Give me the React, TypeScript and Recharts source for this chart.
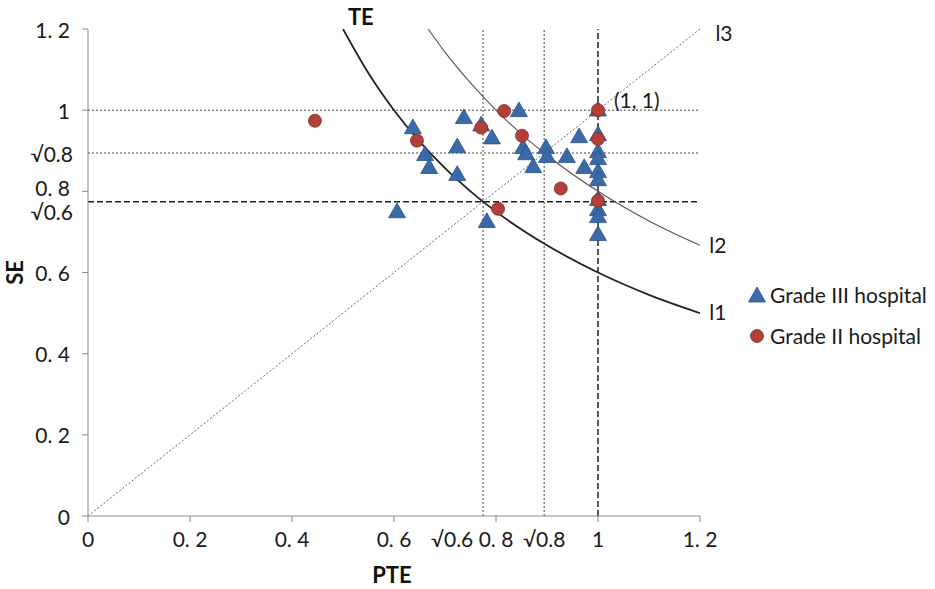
import { ComposedChart, Scatter, Line, XAxis, YAxis, ReferenceLine, ReferenceDot } from 'recharts';

const ROOT06 = Math.sqrt(0.6);
const ROOT08 = Math.sqrt(0.8);

const xTicks = [0, 0.2, 0.4, 0.6, ROOT06, 0.8, ROOT08, 1, 1.2];
const xTickLabels = ['0', '0. 2', '0. 4', '0. 6', '√0.6', '0. 8', '√0.8', '1', '1. 2'];
const yTicks = [0, 0.2, 0.4, 0.6, ROOT06, 0.8, ROOT08, 1, 1.2];
const yTickLabels = ['0', '0. 2', '0. 4', '0. 6', '√0.6', '0. 8', '√0.8', '1', '1. 2'];

// Grade III hospitals (triangles)
const gradeThree = [
  { pte: 0.637, se: 0.954 },
  { pte: 0.661, se: 0.888 },
  { pte: 0.669, se: 0.856 },
  { pte: 0.606, se: 0.747 },
  { pte: 0.737, se: 0.979 },
  { pte: 0.724, se: 0.907 },
  { pte: 0.724, se: 0.839 },
  { pte: 0.771, se: 0.961 },
  { pte: 0.792, se: 0.929 },
  { pte: 0.782, se: 0.723 },
  { pte: 0.845, se: 0.996 },
  { pte: 0.853, se: 0.905 },
  { pte: 0.859, se: 0.89 },
  { pte: 0.873, se: 0.858 },
  { pte: 0.898, se: 0.905 },
  { pte: 0.9, se: 0.883 },
  { pte: 0.939, se: 0.883 },
  { pte: 0.963, se: 0.932 },
  { pte: 0.973, se: 0.856 },
  { pte: 1, se: 0.998 },
  { pte: 1, se: 0.937 },
  { pte: 1, se: 0.895 },
  { pte: 1, se: 0.878 },
  { pte: 1, se: 0.846 },
  { pte: 1, se: 0.826 },
  { pte: 1, se: 0.777 },
  { pte: 1, se: 0.752 },
  { pte: 1, se: 0.735 },
  { pte: 1, se: 0.691 },
];

// Grade II hospitals (circles)
const gradeTwo = [
  { pte: 0.445, se: 0.974 },
  { pte: 0.645, se: 0.925 },
  { pte: 0.771, se: 0.957 },
  { pte: 0.816, se: 0.998 },
  { pte: 0.851, se: 0.937 },
  { pte: 0.804, se: 0.757 },
  { pte: 0.927, se: 0.807 },
  { pte: 1, se: 1 },
  { pte: 1, se: 0.929 },
  { pte: 1, se: 0.777 },
];

// iso-TE curves: l1 (TE = 0.6), l2 (TE = 0.8)
const curveL1 = [
  { pte: 0.5, se: 1.2 },
  { pte: 0.55, se: 1.091 },
  { pte: 0.6, se: 1.0 },
  { pte: 0.65, se: 0.923 },
  { pte: 0.7, se: 0.857 },
  { pte: 0.75, se: 0.8 },
  { pte: 0.8, se: 0.75 },
  { pte: 0.9, se: 0.667 },
  { pte: 1.0, se: 0.6 },
  { pte: 1.1, se: 0.545 },
  { pte: 1.2, se: 0.5 },
];
const curveL2 = [
  { pte: 0.667, se: 1.2 },
  { pte: 0.7, se: 1.143 },
  { pte: 0.75, se: 1.067 },
  { pte: 0.8, se: 1.0 },
  { pte: 0.85, se: 0.941 },
  { pte: 0.9, se: 0.889 },
  { pte: 1.0, se: 0.8 },
  { pte: 1.1, se: 0.727 },
  { pte: 1.2, se: 0.667 },
];

const FONT = 'Lato, "Open Sans", sans-serif';
const TEXT = '#1a1a1a';
const AXIS = '#8c8c8c';
const BLUE = '#3b6aa8';
const BLUE_EDGE = '#2b5189';
const RED = '#b23f38';
const RED_EDGE = '#862a24';

function XTick(props: any) {
  const { x, y, index } = props;
  const label = xTickLabels[index];
  const isRoot = label.startsWith('√');
  const dx = index === 4 ? -31 : 0;
  return (
    <g>
      {!isRoot && <line x1={x} y1={y} x2={x} y2={y + 6} stroke={AXIS} />}
      <text x={x + dx} y={y + 22} textAnchor="middle" dominantBaseline="central" fontSize={21} fontFamily={FONT} fill={TEXT}>
        {label}
      </text>
    </g>
  );
}

function YTick(props: any) {
  const { x, y, index } = props;
  const label = yTickLabels[index];
  const isRoot = label.startsWith('√');
  // √0.6 and 0.8 sit very close: nudge them apart as the original does
  const dy = index === 4 ? 10 : index === 5 ? -4 : 0;
  return (
    <g>
      {!isRoot && <line x1={x} y1={y} x2={x - 6} y2={y} stroke={AXIS} />}
      <text x={x - (isRoot ? 15 : 18)} y={y + dy} textAnchor="end" dominantBaseline="central" fontSize={21} fontFamily={FONT} fill={TEXT}>
        {label}
      </text>
    </g>
  );
}

function Triangle(props: any) {
  const { cx, cy } = props;
  const h = 4.9;
  const s = h * Math.sqrt(3);
  return (
    <polygon
      points={`${cx},${cy - 2 * h} ${cx - s},${cy + h} ${cx + s},${cy + h}`}
      fill={BLUE}
      stroke={BLUE_EDGE}
      strokeWidth={0.8}
    />
  );
}

function Circle(props: any) {
  const { cx, cy } = props;
  return <circle cx={cx} cy={cy} r={6.5} fill={RED} stroke={RED_EDGE} strokeWidth={0.8} />;
}

const labelStyle = { fontSize: 21, fontFamily: FONT, fill: TEXT };
const titleStyle = { fontSize: 22, fontFamily: FONT, fill: '#111', fontWeight: 700 };

export default function App() {
  return (
    <div style={{ position: 'absolute', left: 0, top: 0, width: 935, height: 589, background: '#fff' }}>
      <ComposedChart width={935} height={589} margin={{ top: 29, right: 235, bottom: 33, left: 28 }}>
        <XAxis
          dataKey="pte"
          type="number"
          domain={[0, 1.2]}
          ticks={xTicks}
          interval={0}
          tick={<XTick />}
          tickLine={false}
          tickSize={0}
          tickMargin={0}
          height={40}
          stroke={AXIS}
          allowDataOverflow
        />
        <YAxis
          dataKey="se"
          type="number"
          domain={[0, 1.2]}
          ticks={yTicks}
          interval={0}
          tick={<YTick />}
          tickLine={false}
          tickSize={0}
          tickMargin={0}
          width={60}
          stroke={AXIS}
          allowDataOverflow
        />

        <ReferenceLine segment={[{ x: 0, y: 0 }, { x: 1.2, y: 1.2 }]} stroke="#666" strokeDasharray="2 2" />
        <ReferenceLine y={1} stroke="#444" strokeDasharray="2 2" />
        <ReferenceLine y={ROOT08} stroke="#444" strokeDasharray="2 2" />
        <ReferenceLine y={ROOT06} stroke="#222" strokeWidth={1.5} strokeDasharray="6 3" />
        <ReferenceLine x={ROOT06} stroke="#444" strokeDasharray="2 2" />
        <ReferenceLine x={ROOT08} stroke="#444" strokeDasharray="2 2" />
        <ReferenceLine x={1} stroke="#222" strokeWidth={1.5} strokeDasharray="6 3" />

        <Line data={curveL1} dataKey="se" type="monotone" stroke="#222" strokeWidth={1.8} dot={false} isAnimationActive={false} />
        <Line data={curveL2} dataKey="se" type="monotone" stroke="#555" strokeWidth={1.1} dot={false} isAnimationActive={false} />

        <Scatter name="Grade III hospital" data={gradeThree} dataKey="se" shape={<Triangle />} isAnimationActive={false} />
        <Scatter name="Grade II hospital" data={gradeTwo} dataKey="se" shape={<Circle />} isAnimationActive={false} />

        <ReferenceDot x={0.535} y={1.229} r={0} ifOverflow="visible" label={{ value: 'TE', position: 'center', ...titleStyle }} />
        <ReferenceDot x={1.076} y={1.024} r={0} ifOverflow="visible" label={{ value: '(1, 1)', position: 'center', ...labelStyle }} />
        <ReferenceDot x={1.247} y={1.19} r={0} ifOverflow="visible" label={{ value: 'l3', position: 'center', ...labelStyle }} />
        <ReferenceDot x={1.235} y={0.666} r={0} ifOverflow="visible" label={{ value: 'l2', position: 'center', ...labelStyle }} />
        <ReferenceDot x={1.235} y={0.502} r={0} ifOverflow="visible" label={{ value: 'l1', position: 'center', ...labelStyle }} />
        <ReferenceDot x={0.596} y={-0.145} r={0} ifOverflow="visible" label={{ value: 'PTE', position: 'center', ...titleStyle }} />
        <ReferenceDot x={-0.143} y={0.6} r={0} ifOverflow="visible" label={{ value: 'SE', position: 'center', angle: -90, ...titleStyle }} />
      </ComposedChart>

      <div style={{ position: 'absolute', left: 747, top: 283, fontFamily: FONT, fontSize: 21, color: TEXT, lineHeight: '24px', whiteSpace: 'nowrap' }}>
        <div style={{ display: 'flex', alignItems: 'center', height: 24 }}>
          <svg width={20} height={20} style={{ marginRight: 3 }}>
            <polygon points="10,2 1.5,17 18.5,17" fill={BLUE} stroke={BLUE_EDGE} strokeWidth={0.8} />
          </svg>
          <span>Grade III hospital</span>
        </div>
        <div style={{ display: 'flex', alignItems: 'center', height: 24, marginTop: 17 }}>
          <svg width={20} height={20} style={{ marginRight: 3 }}>
            <circle cx={10} cy={10} r={6.5} fill={RED} stroke={RED_EDGE} strokeWidth={0.8} />
          </svg>
          <span>Grade II hospital</span>
        </div>
      </div>
    </div>
  );
}
